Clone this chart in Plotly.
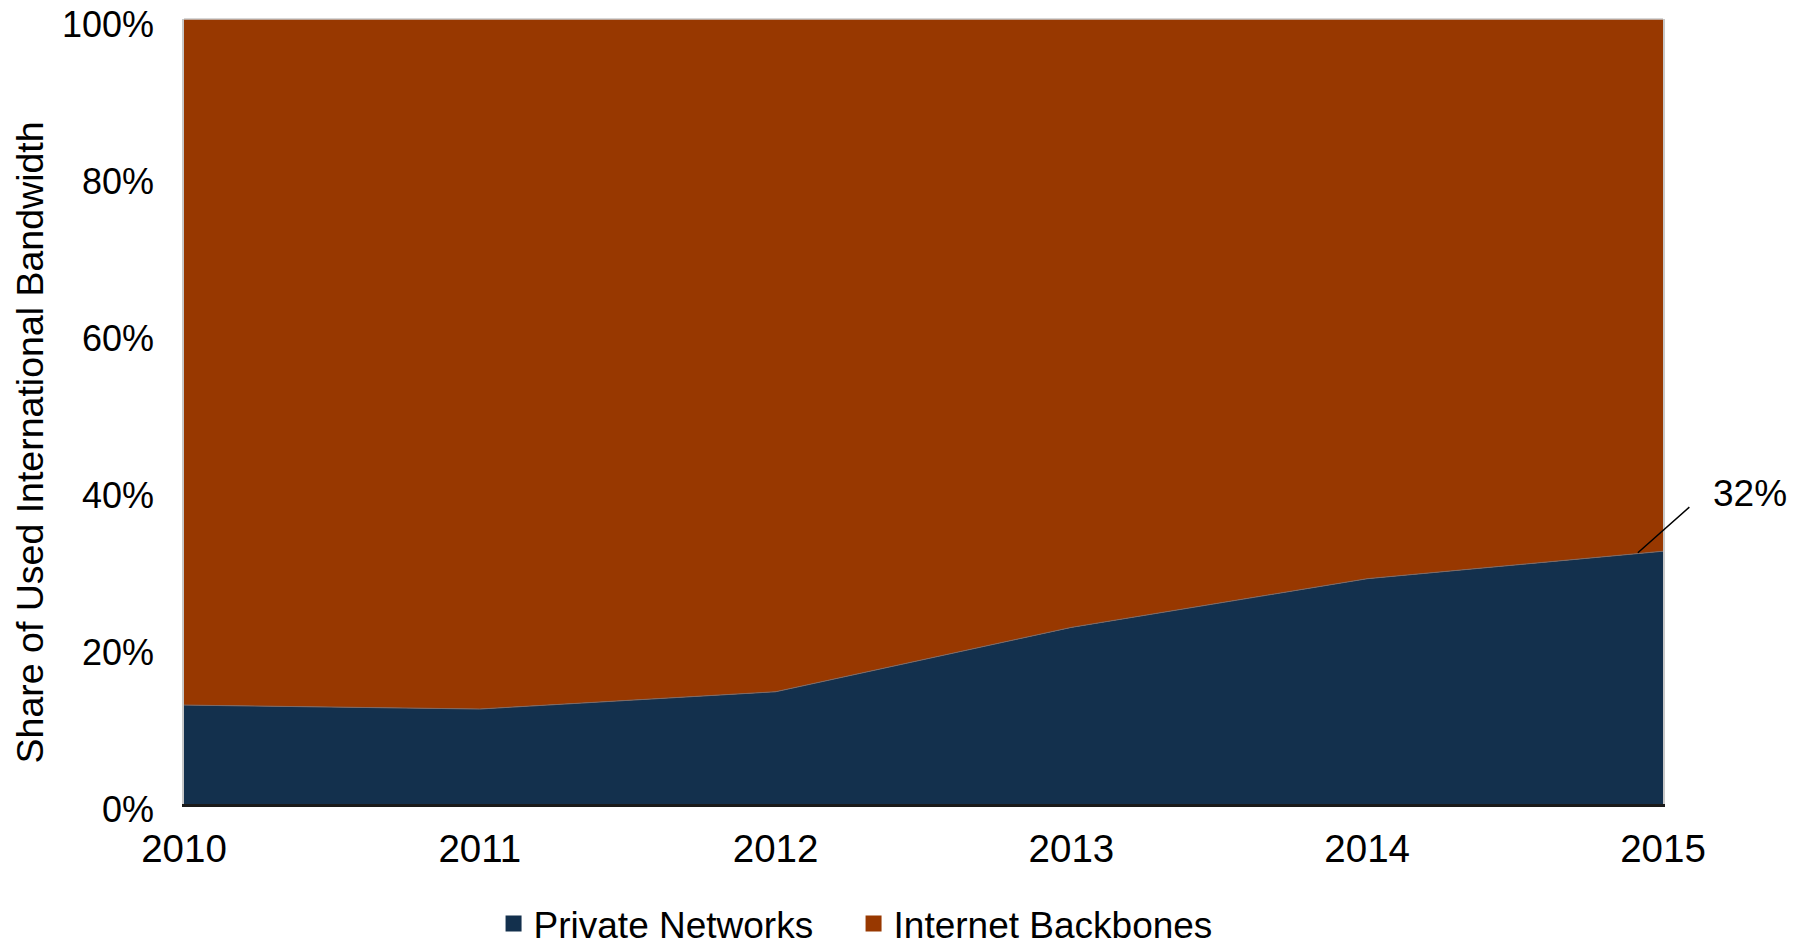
import plotly.graph_objects as go

years = [2010, 2011, 2012, 2013, 2014, 2015]
private_networks = [12.6, 12.1, 14.3, 22.5, 28.7, 32.2]
internet_backbones = [87.4, 87.9, 85.7, 77.5, 71.3, 67.8]
y_ticks = [0, 20, 40, 60, 80, 100]
y_tick_labels = ["0%", "20%", "40%", "60%", "80%", "100%"]
series_names = ["Private Networks", "Internet Backbones"]
colors = ["#13304d", "#983800"]
label_2015 = "32%"
y_title = "Share of Used International Bandwidth"

FONT = "Liberation Sans, Arial, Helvetica, sans-serif"

fig = go.Figure()
fig.add_trace(go.Scatter(
    x=years, y=private_networks, name=series_names[0], stackgroup="one",
    mode="lines", line=dict(color="#7d6a66", width=1), fillcolor=colors[0],
    showlegend=False, hoverinfo="x+y"))
fig.add_trace(go.Scatter(
    x=years, y=internet_backbones, name=series_names[1], stackgroup="one",
    mode="lines", line=dict(color=colors[1], width=0), fillcolor=colors[1],
    showlegend=False, hoverinfo="x+y"))
# legend entries (square swatches)
for name, c in zip(series_names, colors):
    fig.add_trace(go.Scatter(x=[None], y=[None], mode="markers", name=name,
                             marker=dict(symbol="square", size=17, color=c)))

# leader line + label for 2015 value
fig.add_annotation(x=years[-1] - 0.085, y=private_networks[-1] - 0.2, xref="x", yref="y",
                   text="", showarrow=True, arrowhead=0, arrowwidth=1.5,
                   arrowcolor="black", ax=53, ay=-47)
fig.add_annotation(x=years[-1], y=private_networks[-1], xref="x", yref="y",
                   text=label_2015, showarrow=False, xanchor="left", yanchor="middle",
                   xshift=48, yshift=57.5, font=dict(family=FONT, size=37, color="black"))

# y-axis title (placed slightly below the axis centre, as in the original)
fig.add_annotation(x=-0.1041, y=0.4606, xref="paper", yref="paper", text=y_title,
                   textangle=-90, showarrow=False, xanchor="center", yanchor="middle",
                   font=dict(family=FONT, size=37.5, color="black"))

fig.add_shape(type="line", xref="paper", yref="paper", x0=0, x1=1, y0=1, y1=1,
              line=dict(color="#c8c8c8", width=1.5))

fig.update_layout(
    width=1802, height=944,
    margin=dict(l=176, r=147, t=11, b=148, autoexpand=False),
    paper_bgcolor="white", plot_bgcolor="white",
    font=dict(family=FONT, size=36, color="black"),
    showlegend=True,
    legend=dict(orientation="h", x=0.2093, xanchor="left", y=-0.1924, yanchor="bottom",
                font=dict(family=FONT, size=37, color="black"), traceorder="normal",
                itemwidth=30, tracegroupgap=0, bgcolor="rgba(0,0,0,0)",
                entrywidthmode="pixels", entrywidth=315),
    xaxis=dict(range=[2010, 2015], tickvals=years, ticktext=[str(y) for y in years],
               showgrid=False, zeroline=False, showline=True, linecolor="#1a1a1a",
               linewidth=2.5, ticks="", ticklabelstandoff=9, automargin=False,
               tickfont=dict(family=FONT, size=38.5, color="black")),
    yaxis=dict(range=[0, 100], tickmode="array", tickvals=y_ticks, ticktext=y_tick_labels,
               showgrid=False, zeroline=False, showline=True, linecolor="#c8c8c8",
               linewidth=1.5, mirror=True, ticks="", ticklabelstandoff=21, automargin=False,
               ticklabeloverflow="allow", ticklabelshift=5,
               tickfont=dict(family=FONT, size=36, color="black")),
)

fig.write_html("out.html")
